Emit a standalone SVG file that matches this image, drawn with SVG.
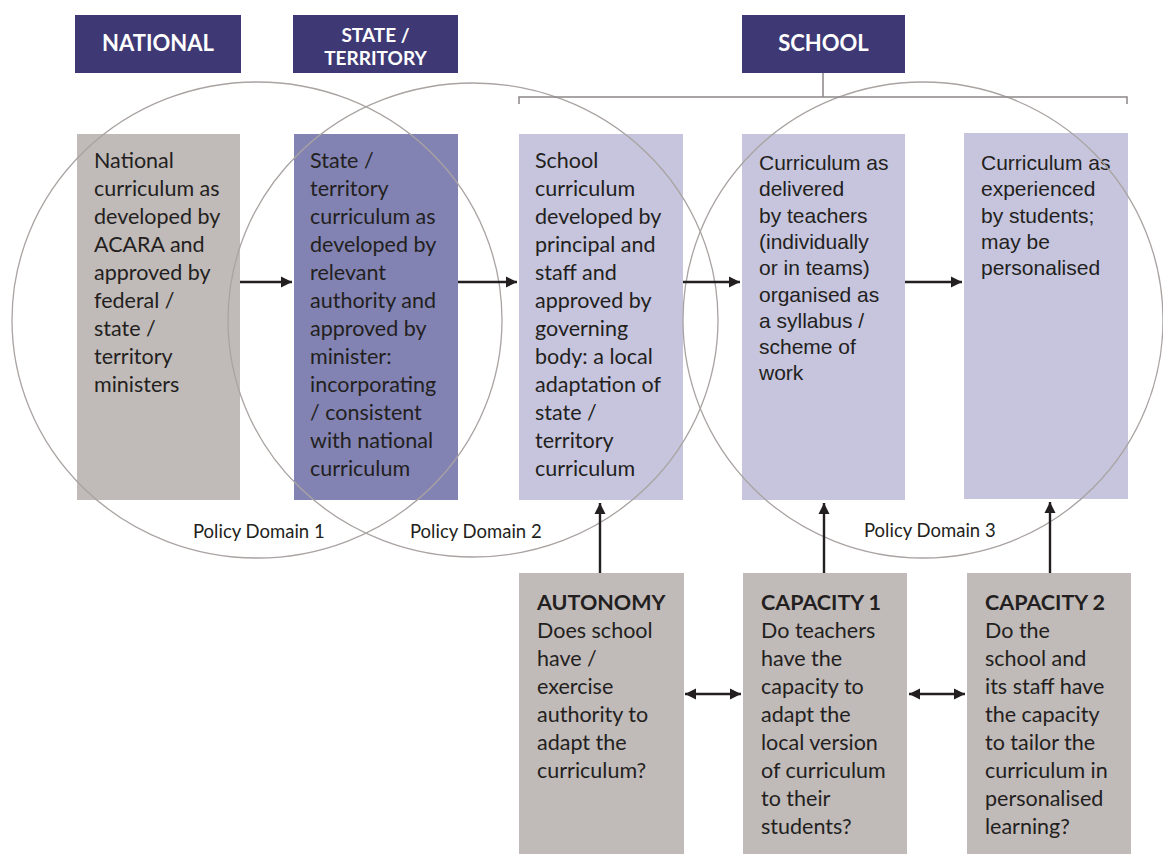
<svg xmlns="http://www.w3.org/2000/svg" width="1163" height="854" viewBox="0 0 1163 854">
<style>
.hdr{fill:#3e3974}
.ht{font-family:Lato,"Open Sans",sans-serif;font-weight:bold;font-size:22px;fill:#ffffff;text-anchor:middle}
.hs{font-size:19px}
.t{font-family:Lato,"Open Sans",sans-serif;font-size:21.5px;fill:#231f20}
.ta{font-family:"Liberation Sans",Arial,sans-serif;font-size:21px;fill:#231f20}
.b{font-weight:bold}
.pd{font-family:Lato,"Open Sans",sans-serif;font-size:18.5px;fill:#231f20}
.grey{fill:#c0bab9}
.dark{fill:#8283b3}
.light{fill:#c6c5dd}
.circ{fill:none;stroke:#a9a3a1;stroke-width:1.3}
.br{fill:none;stroke:#8c8788;stroke-width:1.5}
.ar{stroke:#231f20;stroke-width:2.4;fill:none}
</style>
<defs>
<marker id="ah" viewBox="0 0 10 10" refX="10" refY="5" markerWidth="4.6" markerHeight="4.6" orient="auto-start-reverse" markerUnits="strokeWidth">
<path d="M0,0 L10,5 L0,10 Z" fill="#231f20"/>
</marker>
</defs>
<rect width="1163" height="854" fill="#ffffff"/>

<g id="hdr-national"><rect class="hdr" x="75" y="15" width="166" height="58"/><text class="ht" x="158" y="51">NATIONAL</text></g>
<g id="hdr-state"><rect class="hdr" x="293" y="15" width="165" height="58"/><text class="ht hs" x="375.5" y="42">STATE /</text><text class="ht hs" x="375.5" y="65">TERRITORY</text></g>
<g id="hdr-school"><rect class="hdr" x="742" y="15" width="163" height="58"/><text class="ht" x="823.5" y="51">SCHOOL</text></g>

<g id="box-national"><rect class="grey" x="77" y="134" width="163" height="366"/>
<text class="t" x="94" y="168"><tspan x="94">National</tspan><tspan x="94" dy="28">curriculum as</tspan><tspan x="94" dy="28">developed by</tspan><tspan x="94" dy="28">ACARA and</tspan><tspan x="94" dy="28">approved by</tspan><tspan x="94" dy="28">federal /</tspan><tspan x="94" dy="28">state /</tspan><tspan x="94" dy="28">territory</tspan><tspan x="94" dy="28">ministers</tspan></text></g>

<g id="box-state"><rect class="dark" x="294" y="134" width="164" height="366"/>
<text class="t" x="310" y="168"><tspan x="310">State /</tspan><tspan x="310" dy="28">territory</tspan><tspan x="310" dy="28">curriculum as</tspan><tspan x="310" dy="28">developed by</tspan><tspan x="310" dy="28">relevant</tspan><tspan x="310" dy="28">authority and</tspan><tspan x="310" dy="28">approved by</tspan><tspan x="310" dy="28">minister:</tspan><tspan x="310" dy="28">incorporating</tspan><tspan x="310" dy="28">/ consistent</tspan><tspan x="310" dy="28">with national</tspan><tspan x="310" dy="28">curriculum</tspan></text></g>

<g id="box-school"><rect class="light" x="519" y="134" width="164" height="366"/>
<text class="t" x="535" y="168"><tspan x="535">School</tspan><tspan x="535" dy="28">curriculum</tspan><tspan x="535" dy="28">developed by</tspan><tspan x="535" dy="28">principal and</tspan><tspan x="535" dy="28">staff and</tspan><tspan x="535" dy="28">approved by</tspan><tspan x="535" dy="28">governing</tspan><tspan x="535" dy="28">body: a local</tspan><tspan x="535" dy="28">adaptation of</tspan><tspan x="535" dy="28">state /</tspan><tspan x="535" dy="28">territory</tspan><tspan x="535" dy="28">curriculum</tspan></text></g>

<g id="box-delivered"><rect class="light" x="742" y="134" width="163" height="366"/>
<text class="ta" x="759" y="170"><tspan x="759">Curriculum as</tspan><tspan x="759" dy="26.3">delivered</tspan><tspan x="759" dy="26.3">by teachers</tspan><tspan x="759" dy="26.3">(individually</tspan><tspan x="759" dy="26.3">or in teams)</tspan><tspan x="759" dy="26.3">organised as</tspan><tspan x="759" dy="26.3">a syllabus /</tspan><tspan x="759" dy="26.3">scheme of</tspan><tspan x="759" dy="26.3">work</tspan></text></g>

<g id="box-experienced"><rect class="light" x="964" y="133" width="164" height="366"/>
<text class="ta" x="981" y="170"><tspan x="981">Curriculum as</tspan><tspan x="981" dy="26.3">experienced</tspan><tspan x="981" dy="26.3">by students;</tspan><tspan x="981" dy="26.3">may be</tspan><tspan x="981" dy="26.3">personalised</tspan></text></g>

<g id="box-autonomy"><rect class="grey" x="519" y="573" width="165" height="281"/>
<text class="t" x="537" y="610"><tspan x="537" class="b">AUTONOMY</tspan><tspan x="537" dy="28">Does school</tspan><tspan x="537" dy="28">have /</tspan><tspan x="537" dy="28">exercise</tspan><tspan x="537" dy="28">authority to</tspan><tspan x="537" dy="28">adapt the</tspan><tspan x="537" dy="28">curriculum?</tspan></text></g>

<g id="box-capacity1"><rect class="grey" x="743" y="573" width="164" height="281"/>
<text class="t" x="761" y="610"><tspan x="761" class="b">CAPACITY 1</tspan><tspan x="761" dy="28">Do teachers</tspan><tspan x="761" dy="28">have the</tspan><tspan x="761" dy="28">capacity to</tspan><tspan x="761" dy="28">adapt the</tspan><tspan x="761" dy="28">local version</tspan><tspan x="761" dy="28">of curriculum</tspan><tspan x="761" dy="28">to their</tspan><tspan x="761" dy="28">students?</tspan></text></g>

<g id="box-capacity2"><rect class="grey" x="967" y="573" width="164" height="281"/>
<text class="t" x="985" y="610"><tspan x="985" class="b">CAPACITY 2</tspan><tspan x="985" dy="28">Do the</tspan><tspan x="985" dy="28">school and</tspan><tspan x="985" dy="28">its staff have</tspan><tspan x="985" dy="28">the capacity</tspan><tspan x="985" dy="28">to tailor the</tspan><tspan x="985" dy="28">curriculum in</tspan><tspan x="985" dy="28">personalised</tspan><tspan x="985" dy="28">learning?</tspan></text></g>

<g id="domains">
<ellipse class="circ" cx="257" cy="320" rx="245" ry="238"/>
<ellipse class="circ" cx="473" cy="320" rx="245" ry="237"/>
<ellipse class="circ" cx="923" cy="320" rx="240" ry="238"/>
<text class="pd" x="193" y="538">Policy Domain 1</text>
<text class="pd" x="410" y="538">Policy Domain 2</text>
<text class="pd" x="864" y="537">Policy Domain 3</text>
</g>

<g id="connectors">
<path class="br" d="M823,73 V97 M519,104 V97 H1127 V104"/>
<line class="ar" x1="240" y1="282" x2="292" y2="282" marker-end="url(#ah)"/>
<line class="ar" x1="458" y1="282" x2="517" y2="282" marker-end="url(#ah)"/>
<line class="ar" x1="683" y1="282" x2="740" y2="282" marker-end="url(#ah)"/>
<line class="ar" x1="905" y1="282" x2="962" y2="282" marker-end="url(#ah)"/>
<line class="ar" x1="600" y1="573" x2="600" y2="503" marker-end="url(#ah)"/>
<line class="ar" x1="824" y1="573" x2="824" y2="503" marker-end="url(#ah)"/>
<line class="ar" x1="1050" y1="573" x2="1050" y2="502" marker-end="url(#ah)"/>
<line class="ar" x1="685" y1="694" x2="741" y2="694" marker-start="url(#ah)" marker-end="url(#ah)"/>
<line class="ar" x1="909" y1="694" x2="965" y2="694" marker-start="url(#ah)" marker-end="url(#ah)"/>
</g>
</svg>
